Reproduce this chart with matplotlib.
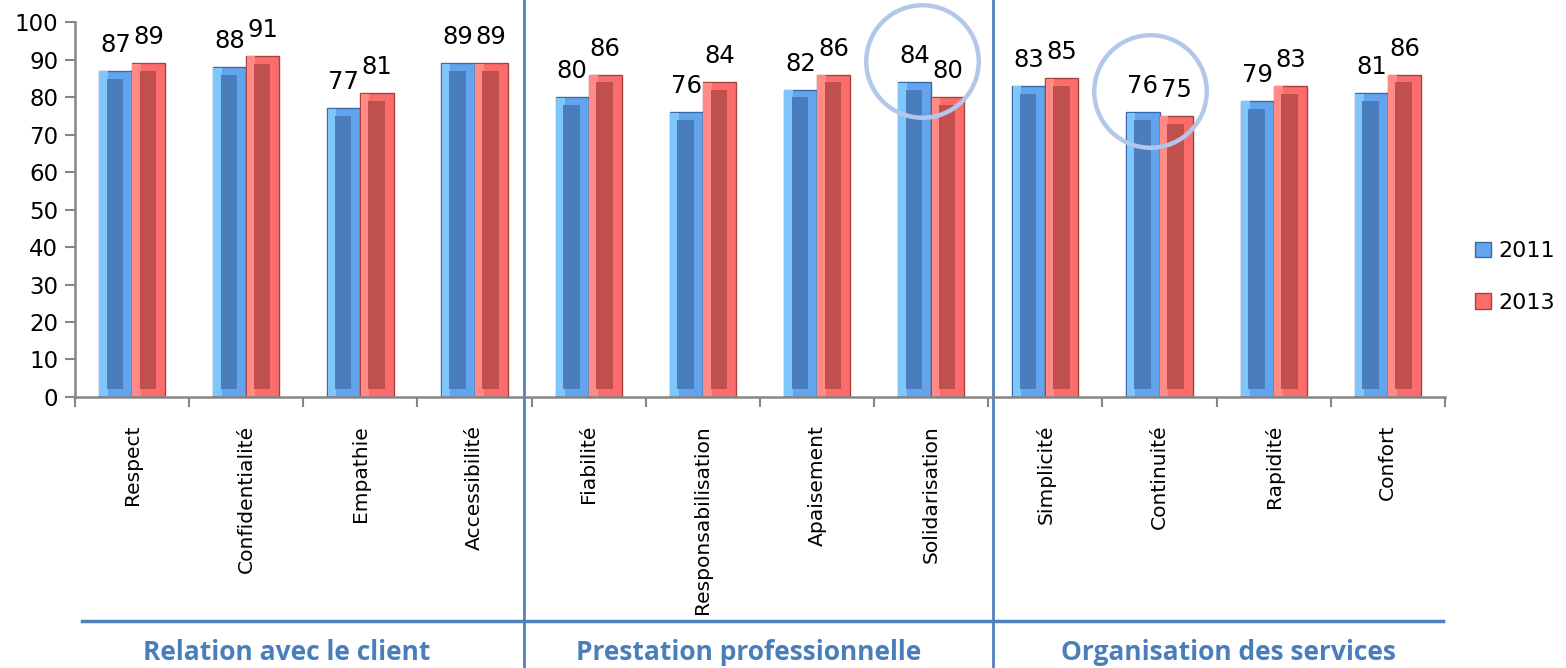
import matplotlib.pyplot as plt
import matplotlib.patches as mpatches
import numpy as np

# satisfaction scores per criterion, 2011 vs 2013

categories = [
    "Respect", "Confidentialité", "Empathie", "Accessibilité",
    "Fiabilité", "Responsabilisation", "Apaisement", "Solidarisation",
    "Simplicité", "Continuité", "Rapidité", "Confort",
]
scores_2011 = [87, 88, 77, 89, 80, 76, 82, 84, 83, 76, 79, 81]
scores_2013 = [89, 91, 81, 89, 86, 84, 86, 80, 85, 75, 83, 86]
groups = ["Relation avec le client", "Prestation professionnelle", "Organisation des services"]
group_centers = [1.35, 5.4, 9.6]
dividers = [3.43, 7.54]
highlighted = [7, 9]  # Solidarisation, Continuité

plt.rcParams["font.family"] = ["DejaVu Sans"]

fig = plt.figure(figsize=(15.66, 6.68), dpi=100)
ax = fig.add_axes([0.0479, 0.4057, 0.8748, 0.5613])

x = np.arange(len(categories))
w = 0.29
inset = 2.1

series = [
    ("2011", scores_2011, -w / 2, "#62a4ee", "#7fc6fb", "#4a7dbb", "#3b6aa6"),
    ("2013", scores_2013, w / 2, "#fb6d6d", "#ff8a86", "#c0504d", "#a8423f"),
]

handles = []
for name, vals, off, face, light, inner, edge in series:
    vals = np.array(vals, dtype=float)
    ax.bar(x + off, vals, w, color=face, edgecolor=edge, linewidth=1.0, zorder=2)
    # lighter strip on the left side of each bar
    ax.bar(x + off - w * 0.36, vals - 0.3, w * 0.26, bottom=0.15, color=light,
           linewidth=0, zorder=3)
    # darker inner face
    ax.bar(x + off - w * 0.02, vals - 2 * inset, w * 0.5, bottom=inset,
           color=inner, linewidth=0, zorder=4)
    for xi, v in zip(x + off, vals):
        ax.annotate(f"{v:.0f}", (xi, v), xytext=(0, 10), textcoords="offset points",
                    ha="center", va="bottom", fontsize=17.5, zorder=6)
    handles.append(mpatches.Patch(facecolor=face, edgecolor=edge, label=name))

# circles around the two criteria that dropped
for i in highlighted:
    yc = max(scores_2011[i], scores_2013[i]) + 5.5
    ax.plot(i - 0.08, yc, marker="o", markersize=81, fillstyle="none",
            markeredgecolor="#b3c7ea", markeredgewidth=3.2, zorder=7, clip_on=False)

ax.set_xlim(-0.5, len(categories) - 0.5)
ax.set_ylim(0, 100)
ax.set_yticks(range(0, 101, 10))
ax.tick_params(axis="y", labelsize=16.5, length=7, width=1.5, color="#868686", pad=5)

ax.set_xticks(x)
ax.set_xticklabels(categories, rotation=90, fontsize=14.6, va="top")
ax.tick_params(axis="x", length=0, pad=20)
ax.set_xticks(np.arange(-0.5, len(categories)), minor=True)
ax.tick_params(axis="x", which="minor", length=7, width=1.5, color="#868686")

for side in ["top", "right"]:
    ax.spines[side].set_visible(False)
for side in ["left", "bottom"]:
    ax.spines[side].set_color("#868686")
    ax.spines[side].set_linewidth(1.8)

# group separators and group names below the axis
trans = ax.get_xaxis_transform()
line_color = "#4f81bd"
for d in dividers:
    ax.plot([d, d], [1.06, -0.73], color=line_color, lw=2, transform=trans, clip_on=False, zorder=1)
ax.plot([-0.44, 11.48], [-0.597, -0.597], color=line_color, lw=2.5, transform=trans, clip_on=False)
for name, cx in zip(groups, group_centers):
    ax.text(cx, -0.682, name, transform=trans, ha="center", va="center",
            fontsize=19, fontweight="bold", color="#4a7ebb", family=["Open Sans", "DejaVu Sans"])

ax.legend(handles=handles, loc="center left", bbox_to_anchor=(1.022, 0.32), frameon=False,
          fontsize=16, handlelength=0.7, handleheight=0.7, handletextpad=0.35,
          labelspacing=1.4, borderpad=0, borderaxespad=0)

fig.savefig("out.png", dpi=100)
